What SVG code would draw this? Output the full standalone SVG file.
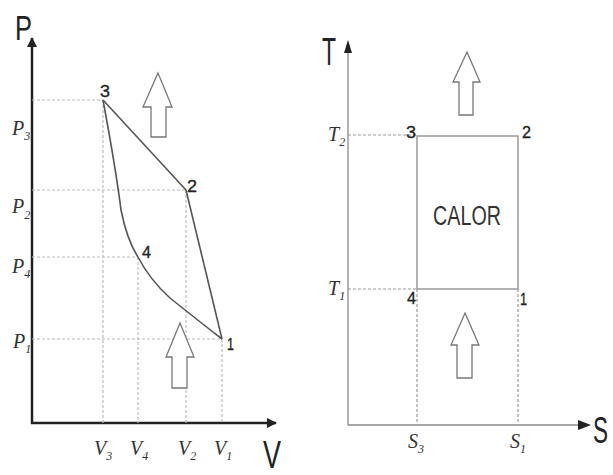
<svg xmlns="http://www.w3.org/2000/svg" width="613" height="475" viewBox="0 0 613 475">
<defs>
<marker id="ah" viewBox="0 0 10 10" refX="9" refY="5" markerWidth="10" markerHeight="10" markerUnits="userSpaceOnUse" orient="auto">
<path d="M0,0 L10,5 L0,10 z" fill="#222"/>
</marker>
</defs>
<style>
.axis{stroke:#222;stroke-width:2.5;fill:none}
.axisg{stroke:#999;stroke-width:1.5;fill:none}
.grid{stroke:#bbb;stroke-width:1.2;stroke-dasharray:3 2;fill:none}
.gridd{stroke:#999;stroke-width:1.2;stroke-dasharray:3 2;fill:none}
.curve{stroke:#555;stroke-width:1.6;fill:none}
.box{stroke:#999;stroke-width:1.5;fill:none}
.harrow{stroke:#777;stroke-width:1.3;fill:#fff}
.big{font-family:"Liberation Sans",Arial,sans-serif;fill:#222}
.num{font-family:"Liberation Sans",Arial,sans-serif;font-size:16px;fill:#222;stroke:#222;stroke-width:0.3}
.lab{font-family:"Liberation Serif","Times New Roman",serif;font-style:italic;font-size:20px;fill:#333}
.sub{font-size:12px}
.calor{font-family:"Liberation Sans",Arial,sans-serif;font-size:27px;fill:#333}
</style>
<rect width="613" height="475" fill="#fff"/>

<g id="pv-diagram">
<g id="pv-axes">
<line class="axis" x1="32" y1="424" x2="32" y2="38" marker-end="url(#ah)"/>
<line class="axis" x1="31" y1="423" x2="276" y2="423" marker-end="url(#ah)"/>
<text class="big" x="15" y="40" font-size="35" textLength="17" lengthAdjust="spacingAndGlyphs">P</text>
<text class="big" x="263" y="468" font-size="39" textLength="18" lengthAdjust="spacingAndGlyphs">V</text>
</g>
<g id="pv-grid">
<line class="grid" x1="32" y1="100" x2="103" y2="100"/>
<line class="grid" x1="32" y1="190" x2="186" y2="190"/>
<line class="grid" x1="32" y1="257" x2="138" y2="257"/>
<line class="grid" x1="32" y1="339" x2="222" y2="339"/>
<line class="grid" x1="103" y1="100" x2="103" y2="423"/>
<line class="grid" x1="138" y1="257" x2="138" y2="423"/>
<line class="grid" x1="186" y1="190" x2="186" y2="423"/>
<line class="grid" x1="222" y1="339" x2="222" y2="423"/>
</g>
<g id="pv-ticks">
<text class="lab" x="12" y="135">P<tspan class="sub" dy="5">3</tspan></text>
<text class="lab" x="12" y="213">P<tspan class="sub" dy="6">2</tspan></text>
<text class="lab" x="12" y="273">P<tspan class="sub" dy="5">4</tspan></text>
<text class="lab" x="13" y="348">P<tspan class="sub" dy="5">1</tspan></text>
<text class="lab" x="94" y="455">V<tspan class="sub" dy="5">3</tspan></text>
<text class="lab" x="130" y="455">V<tspan class="sub" dy="5">4</tspan></text>
<text class="lab" x="178" y="455">V<tspan class="sub" dy="5">2</tspan></text>
<text class="lab" x="214" y="455">V<tspan class="sub" dy="5">1</tspan></text>
</g>
<g id="pv-point-3"><text class="num" x="100" y="97" textLength="10" lengthAdjust="spacingAndGlyphs">3</text></g>
<g id="pv-point-2"><text class="num" x="187" y="192" textLength="10" lengthAdjust="spacingAndGlyphs">2</text></g>
<g id="pv-point-4"><text class="num" x="142" y="258" textLength="9" lengthAdjust="spacingAndGlyphs">4</text></g>
<g id="pv-point-1"><text class="num" x="227" y="350" textLength="7" lengthAdjust="spacingAndGlyphs">1</text></g>
<g id="pv-arrow-up"><path class="harrow" d="M158,73 L172,107 L166,107 L166,137 L151,137 L151,107 L143,107 Z"/></g>
<g id="pv-arrow-in"><path class="harrow" d="M180,323 L194,357 L187,357 L187,388 L172,388 L172,357 L166,357 Z"/></g>
</g>

<g id="ts-diagram">
<g id="ts-axes">
<line class="axisg" x1="348" y1="425" x2="348" y2="42"/>
<path d="M344,53 L348,40 L352,53 Z" fill="#222"/>
<line class="axisg" x1="348" y1="425" x2="584" y2="425" style="stroke:#888"/>
<path d="M578,420 L591,425 L578,430 Z" fill="#222"/>
<text class="big" x="322" y="65" font-size="39" textLength="14" lengthAdjust="spacingAndGlyphs">T</text>
<text class="big" x="593" y="443" font-size="36" textLength="15" lengthAdjust="spacingAndGlyphs">S</text>
</g>
<g id="ts-grid">
<line class="gridd" x1="348" y1="135" x2="416" y2="135"/>
<line class="gridd" x1="348" y1="289" x2="416" y2="289"/>
<line class="gridd" x1="417" y1="289" x2="417" y2="425"/>
<line class="gridd" x1="518" y1="289" x2="518" y2="425"/>
</g>
<g id="ts-ticks">
<text class="lab" x="328" y="141">T<tspan class="sub" dy="5">2</tspan></text>
<text class="lab" x="328" y="295">T<tspan class="sub" dy="5">1</tspan></text>
<text class="lab" x="408" y="448">S<tspan class="sub" dy="5">3</tspan></text>
<text class="lab" x="510" y="448">S<tspan class="sub" dy="5">1</tspan></text>
</g>
<g id="ts-point-3"><text class="num" x="406" y="138" textLength="10" lengthAdjust="spacingAndGlyphs">3</text></g>
<g id="ts-point-2"><text class="num" x="522" y="138" textLength="9" lengthAdjust="spacingAndGlyphs">2</text></g>
<g id="ts-point-4"><text class="num" x="407" y="304" textLength="9" lengthAdjust="spacingAndGlyphs">4</text></g>
<g id="ts-point-1"><text class="num" x="520" y="305" textLength="7" lengthAdjust="spacingAndGlyphs">1</text></g>
<g id="ts-calor"><text class="calor" x="433" y="225" textLength="68" lengthAdjust="spacingAndGlyphs">CALOR</text></g>
<g id="ts-arrow-up"><path class="harrow" d="M467,52 L480,82 L473,82 L473,115 L459,115 L459,82 L453,82 Z"/></g>
<g id="ts-arrow-in"><path class="harrow" d="M465,313 L479,345 L472,345 L472,378 L457,378 L457,345 L451,345 Z"/></g>
</g>

<g id="connectors">
<path class="curve" d="M103,100 L186,190"/>
<path class="curve" d="M103,100 Q116,170 121,210 Q127,240 138,257"/>
<path class="curve" d="M138,257 Q150,280 170,298 Q200,322 222,339"/>
<path class="curve" d="M186,190 L222,339"/>
<path class="box" d="M417,136 L518,136 L518,289 L417,289 Z"/>
</g>
</svg>
